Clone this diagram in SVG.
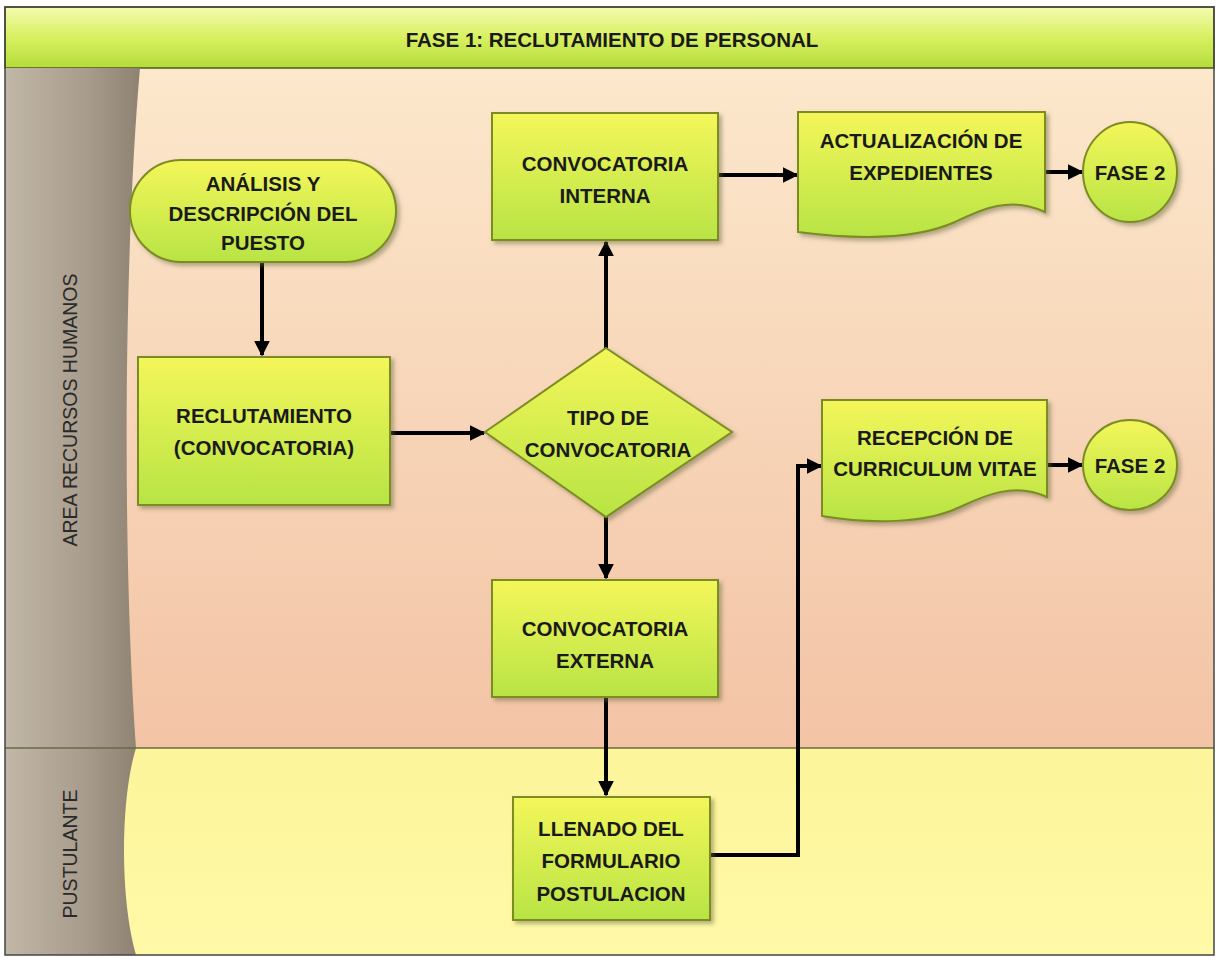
<svg xmlns="http://www.w3.org/2000/svg" width="1219" height="958" viewBox="0 0 1219 958">
<defs>
<linearGradient id="gTitle" x1="0" y1="0" x2="0" y2="1">
<stop offset="0" stop-color="#f4fbb0"/><stop offset="0.5" stop-color="#d8f060"/><stop offset="1" stop-color="#b4dc3c"/>
</linearGradient>
<linearGradient id="gLaneTop" x1="0" y1="0" x2="0" y2="1">
<stop offset="0" stop-color="#fce8cc"/><stop offset="1" stop-color="#f3c3a5"/>
</linearGradient>
<linearGradient id="gLaneBot" x1="0" y1="0" x2="0" y2="1">
<stop offset="0" stop-color="#fdf59a"/><stop offset="1" stop-color="#fff9a8"/>
</linearGradient>
<linearGradient id="gHead" x1="0" y1="0" x2="1" y2="0">
<stop offset="0" stop-color="#c2b8a8"/><stop offset="0.6" stop-color="#a89c8c"/><stop offset="1" stop-color="#8e8272"/>
</linearGradient>
<linearGradient id="gNode" x1="0" y1="0" x2="0" y2="1">
<stop offset="0" stop-color="#f4f65a"/><stop offset="1" stop-color="#b8e444"/>
</linearGradient>
<filter id="sh" x="-10%" y="-10%" width="130%" height="130%">
<feDropShadow dx="3" dy="3" stdDeviation="2" flood-color="#6a6a40" flood-opacity="0.5"/>
</filter>
<marker id="ah" viewBox="0 0 10 10" refX="9" refY="5" markerWidth="4" markerHeight="4" orient="auto" markerUnits="strokeWidth">
<path d="M0,0 L10,5 L0,10 Z" fill="#000"/>
</marker>
<style>
.node{fill:url(#gNode);stroke:#7c8c22;stroke-width:2;filter:url(#sh)}
.t{font-family:"Liberation Sans",Arial,sans-serif;font-weight:bold;font-size:20.5px;fill:#1a1a1a;text-anchor:middle}
.lane{font-family:"Liberation Sans",Arial,sans-serif;font-size:19.5px;fill:#2a2a2a;text-anchor:middle}
.c{fill:none;stroke:#000;stroke-width:4;marker-end:url(#ah)}
</style>
</defs>

<g id="background">
<rect x="5" y="7" width="1209" height="948" fill="#fff"/>
<rect x="5" y="68" width="1209" height="680" fill="url(#gLaneTop)"/>
<rect x="5" y="748" width="1209" height="207" fill="url(#gLaneBot)"/>
<rect x="5" y="7" width="1209" height="61" fill="url(#gTitle)" stroke="#4a5a10" stroke-width="1.5"/>
<path d="M5,68 H140 C124,250 122,550 136,748 H5 Z" fill="url(#gHead)"/>
<path d="M5,748 H136 C120,800 120,900 136,955 H5 Z" fill="url(#gHead)"/>
<line x1="5" y1="748" x2="1214" y2="748" stroke="#6a6a40" stroke-width="1.5"/>
<rect x="5" y="7" width="1209" height="948" fill="none" stroke="#444" stroke-width="1.5"/>
</g>

<g id="title">
<text x="612" y="47" class="t" font-size="21.5">FASE 1: RECLUTAMIENTO DE PERSONAL</text>
</g>

<g id="lane-rrhh">
<text class="lane" transform="translate(77,410) rotate(-90)">AREA RECURSOS HUMANOS</text>
</g>
<g id="lane-postulante">
<text class="lane" transform="translate(77,854) rotate(-90)">PUSTULANTE</text>
</g>

<g id="connectors">
<path class="c" d="M262,262 V355"/>
<path class="c" d="M390,433 H484"/>
<path class="c" d="M606,348 V242"/>
<path class="c" d="M718,175 H797"/>
<path class="c" d="M1045,172 H1082"/>
<path class="c" d="M606,517 V578"/>
<path class="c" d="M606,697 V795"/>
<path class="c" d="M710,855 H798 V466 H821"/>
<path class="c" d="M1047,465 H1082"/>
</g>

<g id="n-analisis">
<rect class="node" x="130" y="160" width="266" height="102" rx="51" ry="51"/>
<text class="t" x="263" y="191">ANÁLISIS Y</text>
<text class="t" x="263" y="221">DESCRIPCIÓN DEL</text>
<text class="t" x="263" y="250">PUESTO</text>
</g>

<g id="n-reclutamiento">
<rect class="node" x="138" y="357" width="252" height="148"/>
<text class="t" x="264" y="423">RECLUTAMIENTO</text>
<text class="t" x="264" y="455">(CONVOCATORIA)</text>
</g>

<g id="n-tipo">
<path class="node" d="M606,348 L732,432 L606,517 L485,432 Z"/>
<text class="t" x="608" y="425">TIPO DE</text>
<text class="t" x="608" y="457">CONVOCATORIA</text>
</g>

<g id="n-interna">
<rect class="node" x="492" y="113" width="226" height="127"/>
<text class="t" x="605" y="171">CONVOCATORIA</text>
<text class="t" x="605" y="203">INTERNA</text>
</g>

<g id="n-actualizacion">
<path class="node" d="M798,112 H1045 V212 C1010,195 980,210 955,222 C915,240 860,240 798,232 Z"/>
<text class="t" x="921" y="148">ACTUALIZACIÓN DE</text>
<text class="t" x="921" y="180">EXPEDIENTES</text>
</g>

<g id="n-fase2a">
<ellipse class="node" cx="1130" cy="172" rx="47" ry="50"/>
<text class="t" x="1130" y="180">FASE 2</text>
</g>

<g id="n-externa">
<rect class="node" x="492" y="580" width="226" height="117"/>
<text class="t" x="605" y="636">CONVOCATORIA</text>
<text class="t" x="605" y="668">EXTERNA</text>
</g>

<g id="n-llenado">
<rect class="node" x="513" y="797" width="197" height="123"/>
<text class="t" x="611" y="836">LLENADO DEL</text>
<text class="t" x="611" y="868">FORMULARIO</text>
<text class="t" x="611" y="901">POSTULACION</text>
</g>

<g id="n-recepcion">
<path class="node" d="M822,400 H1047 V497 C1015,482 985,495 960,507 C925,524 870,524 822,516 Z"/>
<text class="t" x="935" y="445">RECEPCIÓN DE</text>
<text class="t" x="935" y="476">CURRICULUM VITAE</text>
</g>

<g id="n-fase2b">
<ellipse class="node" cx="1130" cy="465" rx="47" ry="45"/>
<text class="t" x="1130" y="473">FASE 2</text>
</g>
</svg>
